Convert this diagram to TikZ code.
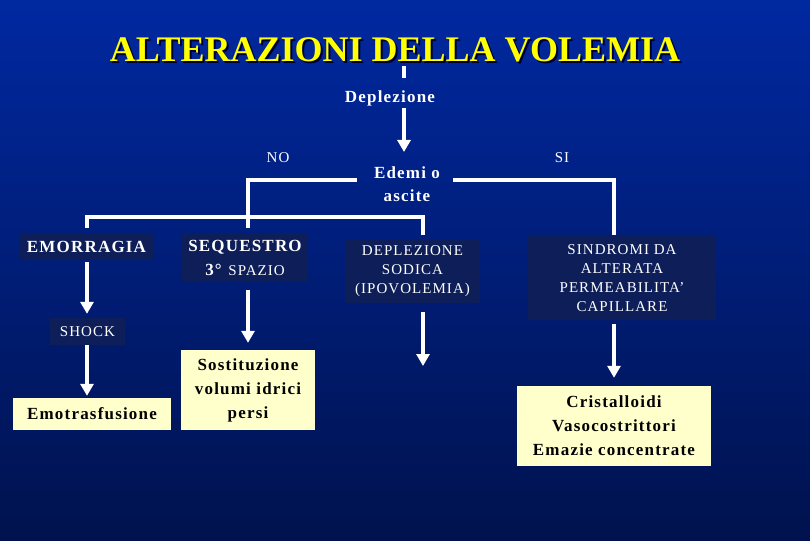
\documentclass[tikz,border=0pt]{standalone}
\usepackage{fontspec}
\setmainfont{Liberation Serif}[LetterSpace=7]
\newfontfamily\titlefont{Liberation Serif}
\usetikzlibrary{arrows.meta}

\definecolor{fondoalto}{RGB}{0,40,160}
\definecolor{fondobasso}{RGB}{0,18,78}
\definecolor{riquadro}{RGB}{14,30,88}
\definecolor{giallino}{RGB}{255,255,204}
\definecolor{giallotitolo}{RGB}{255,255,0}

\tikzset{
  scritta/.style={text=white, align=center, inner sep=0pt},
  scuro/.style={scritta, fill=riquadro},
  chiaro/.style={fill=giallino, text=black, align=center, inner sep=0pt,
    font=\fontsize{17}{24}\selectfont\bfseries},
  filo/.style={white, line width=4.3pt},
  freccia/.style={filo, -{Triangle[width=13pt,length=12pt]}},
}

\begin{document}
\begin{tikzpicture}[x=1pt, y=-1pt]
    % Sfondo sfumato
    \shade[top color=fondoalto, bottom color=fondobasso] (0,0) rectangle (810,540);
    \useasboundingbox (0,0) rectangle (810,540);

    % Titolo con ombra
    \node[text=black!80!blue, font=\titlefont\fontsize{36}{40}\selectfont\bfseries] (ombra) at (397,52) {ALTERAZIONI DELLA VOLEMIA};
    \node[text=giallotitolo, font=\titlefont\fontsize{36}{40}\selectfont\bfseries] (titolo) at (395,50) {ALTERAZIONI DELLA VOLEMIA};

    % Testi del primo livello
    \node[scritta, font=\fontsize{17}{20}\selectfont\bfseries] (depl) at (390,98) {Deplezione};
    \node[scritta, font=\fontsize{17}{23}\selectfont\bfseries] (edemi) at (407,184) {Edemi o\\ascite};
    \node[scritta, font=\fontsize{15}{18}\selectfont] (no) at (278,158) {NO};
    \node[scritta, font=\fontsize{15}{18}\selectfont] (si) at (562,158) {SI};

    % Riquadri scuri
    \node[scuro, minimum width=133pt, minimum height=27pt, font=\fontsize{17}{20}\selectfont\bfseries] (emorragia) at (86.5,246.5) {EMORRAGIA};
    \node[scuro, minimum width=126pt, minimum height=49pt, font=\fontsize{17}{24}\selectfont] (sequestro) at (245,257.5)
        {\bfseries SEQUESTRO\\\textbf{3°} {\fontsize{15}{24}\selectfont SPAZIO}};
    \node[scuro, minimum width=135pt, minimum height=63pt, font=\fontsize{15}{19}\selectfont] (ipovol) at (412.5,271.5)
        {DEPLEZIONE\\SODICA\\(IPOVOLEMIA)};
    \node[scuro, minimum width=188pt, minimum height=84pt, font=\fontsize{15}{19}\selectfont] (sindromi) at (622,278)
        {SINDROMI DA\\ALTERATA\\PERMEABILITA’\\CAPILLARE};
    \node[scuro, minimum width=75pt, minimum height=27pt, font=\fontsize{15}{18}\selectfont] (shock) at (87.5,331.5) {SHOCK};

    % Riquadri gialli (terapie)
    \node[chiaro, minimum width=158pt, minimum height=32pt] (emotrasf) at (92,414) {Emotrasfusione};
    \node[chiaro, minimum width=134pt, minimum height=80pt] (sostituz) at (248,390) {Sostituzione\\volumi idrici\\persi};
    \node[chiaro, minimum width=194pt, minimum height=80pt] (cristall) at (614,426) {Cristalloidi\\Vasocostrittori\\Emazie concentrate};

    % Punti di appoggio dei collegamenti
    \coordinate (tA) at (404,66);
    \coordinate (tB) at (404,78);
    \coordinate (dA) at (404,108);
    \coordinate (dB) at (404,152);
    \coordinate (nA) at (357,180);
    \coordinate (snodo) at (248,217);
    \coordinate (sA) at (453,180);
    \coordinate (sinistra) at (87,0);
    \coordinate (fine) at (423,366);

    % Linee di ramificazione
    \draw[filo] (tA) -- (tB);
    \draw[freccia] (dA) -- (dB);
    \draw[filo] (nA) -| (snodo);
    \draw[filo] ([yshift=5pt]emorragia.north -| sinistra) |- (snodo) -| ([yshift=5pt]ipovol.north -| fine);
    \draw[filo] (snodo) -- ([yshift=5pt]sequestro.north -| snodo);
    \draw[filo] (sA) -| ([yshift=1pt]sindromi.north -| cristall.north);

    % Frecce verso le terapie
    \draw[freccia, shorten <=2pt, shorten >=4pt] (emorragia.south -| sinistra) -- (shock.north -| sinistra);
    \draw[freccia, shorten >=2pt] (shock.south -| sinistra) -- (emotrasf.north -| sinistra);
    \draw[freccia, shorten <=8pt, shorten >=7pt] (sequestro.south -| sostituz.north) -- (sostituz.north);
    \draw[freccia, shorten <=9pt] (ipovol.south -| fine) -- (fine);
    \draw[freccia, shorten <=4pt, shorten >=8pt] (sindromi.south -| cristall.north) -- (cristall.north);

\end{tikzpicture}
\end{document}
